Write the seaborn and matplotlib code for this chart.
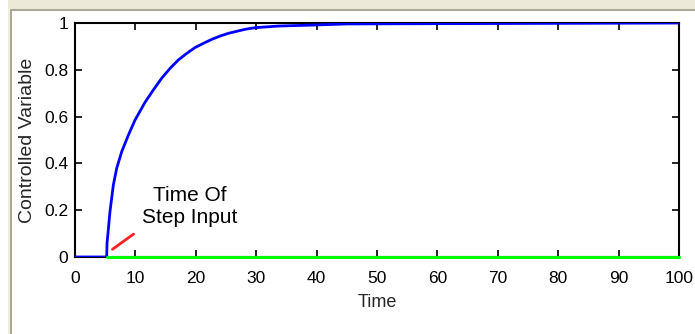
import matplotlib
matplotlib.use("Agg")
import matplotlib.pyplot as plt
import seaborn as sns
import pandas as pd
from matplotlib.patches import Rectangle
from matplotlib.lines import Line2D

# ---- data ----
time_pts = [0, 5.25, 5.3, 5.41, 5.79, 6.35, 6.90, 7.73, 8.84, 9.93, 11.59, 12.97,
            14.35, 15.73, 17.11, 18.49, 19.87, 21.25, 22.63, 24.0, 25.4, 28.15,
            29.8, 33.7, 39.2, 45, 100]
response = [0, 0, 0.06, 0.087, 0.194, 0.308, 0.379, 0.45, 0.521, 0.585, 0.661,
            0.714, 0.764, 0.806, 0.842, 0.870, 0.895, 0.913, 0.930, 0.944, 0.956,
            0.973, 0.980, 0.987, 0.991, 0.996, 1.0]
base_time = [5.25, 100]
base_value = [0, 0]
marker_time = [6.2, 9.7]
marker_value = [0.033, 0.098]
x_ticks = [0, 10, 20, 30, 40, 50, 60, 70, 80, 90, 100]
y_ticks = [0, 0.2, 0.4, 0.6, 0.8, 1]
y_tick_labels = ["0", "0.2", "0.4", "0.6", "0.8", "1"]

sns.set_theme(style="ticks")
plt.rcParams["font.family"] = ["Liberation Sans", "DejaVu Sans"]

fig = plt.figure(figsize=(6.95, 3.34), dpi=100)
fig.patch.set_facecolor("white")
W, H = 695, 334
ax = fig.add_axes([75 / W, (H - 257) / H, (679 - 75) / W, (257 - 23) / H])
ax.set_facecolor("white")

# window-like frame decoration
fig.patches.append(Rectangle((8 / W, (H - 9) / H), 1, 9 / H, transform=fig.transFigure,
                             facecolor="#ECE9D8", edgecolor="none", zorder=0))
fig.lines.append(Line2D([11 / W, 1], [(H - 10) / H, (H - 10) / H], transform=fig.transFigure,
                        color="#ACA899", lw=1.5))
fig.lines.append(Line2D([11 / W, 11 / W], [0, (H - 10) / H], transform=fig.transFigure,
                        color="#ACA899", lw=1.5))
fig.lines.append(Line2D([9 / W, 9 / W], [0, (H - 10) / H], transform=fig.transFigure,
                        color="#ECE9D8", lw=1.2))

df_resp = pd.DataFrame({"Time": time_pts, "Value": response})
df_base = pd.DataFrame({"Time": base_time, "Value": base_value})
df_mark = pd.DataFrame({"Time": marker_time, "Value": marker_value})

sns.lineplot(data=df_resp, x="Time", y="Value", ax=ax, color="#0000FF", lw=2,
             estimator=None, sort=False, zorder=4)
sns.lineplot(data=df_base, x="Time", y="Value", ax=ax, color="#00FF00", lw=2.2,
             estimator=None, sort=False, zorder=6, clip_on=False)
sns.lineplot(data=df_mark, x="Time", y="Value", ax=ax, color="#FF2020", lw=2,
             estimator=None, sort=False, zorder=4)

ax.text(19.0, 0.215, "Time Of\nStep Input", ha="center", va="center",
        fontsize=15, linespacing=1.2, color="black")

ax.set_xlim(0, 100)
ax.set_ylim(0, 1)
ax.set_xticks(x_ticks)
ax.set_yticks(y_ticks)
ax.set_yticklabels(y_tick_labels)
ax.tick_params(direction="in", length=5, width=1.2, top=True, right=True,
               labelsize=12.5, colors="black")
ax.tick_params(axis="x", pad=10)
ax.tick_params(axis="y", pad=5)
for s in ax.spines.values():
    s.set_visible(True)
    s.set_color("black")
    s.set_linewidth(1.5)
ax.set_xlabel("Time", fontsize=13, labelpad=6)
ax.set_ylabel("Controlled Variable", fontsize=14, labelpad=6)

fig.savefig("out.png", dpi=100, facecolor="white")
